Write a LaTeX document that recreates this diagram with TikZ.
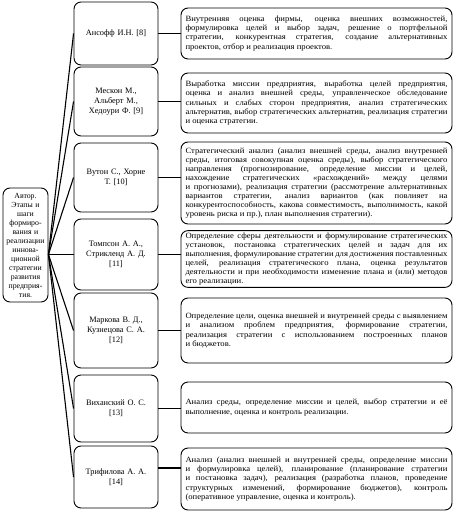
\documentclass[tikz,border=0pt]{standalone}
\usepackage{fontspec}
\setmainfont{Liberation Serif}
\newfontfamily\widefont[FakeStretch=1.08]{Liberation Serif}
\begin{document}
\begin{tikzpicture}[x=1pt,y=-1pt,
  box/.style={draw, line width=0.9pt, rounded corners=7pt, inner ysep=2pt},
  rbox/.style={box, text width=262pt, inner xsep=4.5pt, align=justify, font=\widefont\fontsize{8}{9.1}\selectfont},
  mbox/.style={box, text width=76pt, inner xsep=4pt, align=center, font=\fontsize{8.3}{10}\selectfont},
  lbox/.style={box, text width=43pt, inner xsep=1pt, align=center, font=\fontsize{7.8}{9}\selectfont},
  conn/.style={line width=1.1pt}]
\useasboundingbox (0,0) rectangle (455,512);
\fill[white] (0,0) rectangle (455,512);

\node[lbox, minimum height=114pt] (l) at (25.5,245) {Автор.\\Этапы и\\шаги\\формиро-\\вания и\\реализации\\иннова-\\ционной\\стратегии\\развития\\предприя-\\тия.};

\node[mbox, minimum height=63pt] (m1) at (116,33.5) {Ансофф И.Н. [8]};
\node[mbox, minimum height=69pt] (m2) at (116,101.5) {Мескон М.,\\Альберт М.,\\Хедоури Ф. [9]};
\node[mbox, minimum height=69pt] (m3) at (116,177.5) {Вутон С., Хорне\\Т. [10]};
\node[mbox, minimum height=71pt] (m4) at (116,254.5) {Томпсон А. А.,\\Стрикленд А. Д.\\{[11]}};
\node[mbox, minimum height=75pt] (m5) at (116,330.5) {Маркова В. Д.,\\Кузнецова С. А.\\{[12]}};
\node[mbox, minimum height=67pt] (m6) at (116,408.5) {Виханский О. С.\\{[13]}};
\node[mbox, minimum height=62pt] (m7) at (116,477) {Трифилова А. А.\\{[14]}};

\node[rbox, minimum height=51pt] (r1) at (316.5,33.5) {Внутренняя оценка фирмы, оценка внешних возможностей,\linebreak формулировка целей и выбор задач, решение о портфельной\linebreak стратегии, конкурентная стратегия, создание альтернативных\linebreak проектов, отбор и реализация проектов.};
\node[rbox, minimum height=60pt] (r2) at (316.5,103) {Выработка миссии предприятия, выработка целей предприятия,\linebreak оценка и анализ внешней среды, управленческое обследование\linebreak сильных и слабых сторон предприятия, анализ стратегических\linebreak альтернатив, выбор стратегических альтернатив, реализация стратегии\linebreak и оценка стратегии.};
\node[rbox, minimum height=82pt] (r3) at (316.5,183) {Стратегический анализ (анализ внешней среды, анализ внутренней\linebreak среды, итоговая совокупная оценка среды), выбор стратегического\linebreak направления (прогнозирование, определение миссии и целей,\linebreak нахождение стратегических «расхождений» между целями\linebreak и прогнозами), реализация стратегии (рассмотрение альтернативных\linebreak вариантов стратегии, анализ вариантов (как повлияет на\linebreak конкурентоспособность, какова совместимость, выполнимость, какой\linebreak уровень риска и пр.), план выполнения стратегии).};
\node[rbox, minimum height=56pt] (r4) at (316.5,259) {Определение сферы деятельности и формулирование стратегических\linebreak установок, постановка стратегических целей и задач для их\linebreak выполнения, формулирование стратегии для достижения поставленных\linebreak целей, реализация стратегического плана, оценка результатов\linebreak деятельности и при необходимости изменение плана и (или) методов\linebreak его реализации.};
\node[rbox, minimum height=65pt] (r5) at (316.5,330.5) {Определение цели, оценка внешней и внутренней среды с выявлением\linebreak и анализом проблем предприятия, формирование стратегии,\linebreak реализация стратегии с использованием построенных планов\linebreak и бюджетов.};
\node[rbox, minimum height=51pt] (r6) at (316.5,407.5) {Анализ среды, определение миссии и целей, выбор стратегии и её\linebreak выполнение, оценка и контроль реализации.};
\node[rbox, minimum height=62pt] (r7) at (316.5,479) {Анализ (анализ внешней и внутренней среды, определение миссии\linebreak и формулировка целей), планирование (планирование стратегии\linebreak и постановка задач), реализация (разработка планов, проведение\linebreak структурных изменений, формирование бюджетов), контроль\linebreak (оперативное управление, оценка и контроль).};

\coordinate (hub) at (l.east |- m4.west);
\foreach \i in {1,...,7} {\draw[conn] (hub) -- (m\i.west);}
\foreach \i in {1,...,6} {\draw[conn] (m\i.east) -- (m\i.east -| r\i.west);}
\draw[conn] ([yshift=9pt]m7.east) coordinate (m7e) -- (m7e -| r7.west);
\end{tikzpicture}
\end{document}
